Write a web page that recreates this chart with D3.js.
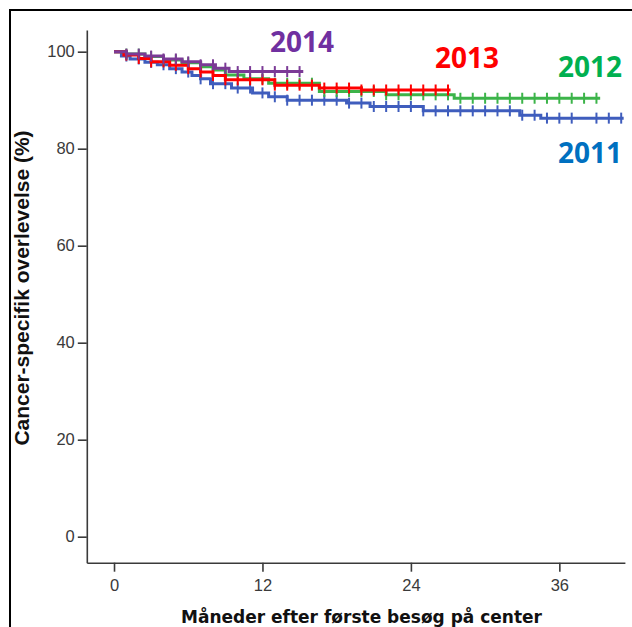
<!DOCTYPE html>
<html>
<head>
<meta charset="utf-8">
<script src="https://cdn.jsdelivr.net/npm/d3@7"></script>
<style>
  html, body { margin: 0; padding: 0; background: #fff; }
  svg { display: block; }
</style>
</head>
<body>
<svg id="chart" width="632" height="627"></svg>
<script>
// Kaplan-Meier steps: time (months) where each step starts, and survival (%) after it
const t2011 = [0, 0.6, 1.3, 2.5, 3.5, 4.5, 5.5, 6.3, 7.0, 7.8, 9.5, 11.2, 12.5, 14, 18.8, 20.7, 25, 32.8, 34.5];
const s2011 = [100, 99.1, 98.5, 97.8, 97.3, 96.5, 95.8, 95.1, 94.4, 93.4, 92.5, 91.5, 90.7, 90.0, 89.4, 88.7, 87.8, 86.9, 86.3];
const end2011 = 41.2;
const c2011 = [1, 2, 3, 4, 5, 6, 7, 8, 9, 10, 11, 12, 13, 14, 15, 16, 17, 18, 19, 20, 21, 22, 23, 24, 25, 26, 27, 28, 29, 30, 31, 32, 33, 34, 35, 36, 37, 39, 40, 41];

const t2012 = [0, 1, 2.5, 4, 5.5, 7, 8, 9, 10.5, 12.5, 16.6, 22, 27.5];
const s2012 = [100, 99.5, 99.0, 98.3, 97.7, 96.9, 96.2, 95.2, 94.4, 93.5, 91.8, 91.1, 90.4];
const end2012 = 39.3;
const c2012 = [1, 2, 3, 4, 5, 6, 7, 8, 9, 10, 11, 12, 13, 14, 15, 16, 17, 18, 19, 20, 21, 22, 23, 24, 25, 26, 27, 28, 29, 30, 31, 32, 33, 34, 35, 36, 37, 38, 39];

const t2013 = [0, 0.8, 2, 3, 4.5, 6, 7, 8, 9, 13, 16.6, 20];
const s2013 = [100, 99.3, 98.6, 97.9, 97.2, 96.5, 95.8, 95.1, 94.2, 93.1, 92.5, 92.1];
const end2013 = 27.2;
const c2013 = [1, 2, 3, 4, 5, 6, 7, 8, 9, 10, 11, 12, 13, 14, 15, 16, 17, 18, 19, 20, 21, 22, 23, 24, 25, 26, 27];

const t2014 = [0, 1, 2.5, 4, 5.5, 7, 8.2, 9.3];
const s2014 = [100, 99.5, 99.1, 98.5, 97.9, 97.3, 96.6, 95.9];
const end2014 = 15.3;
const c2014 = [1, 2, 3, 4, 5, 6, 7, 8, 9, 10, 11, 12, 13, 14, 15];

const seriesNames = ["2011", "2012", "2013", "2014"];
const lineColors = ["#3f5dbd", "#3cb44a", "#ff0000", "#7b3a96"];
const labelColors = ["#0070c0", "#00b050", "#ff0000", "#7030a0"];

const xTicks = [0, 12, 24, 36];
const yTicks = [0, 20, 40, 60, 80, 100];
const xTitle = "Måneder efter første besøg på center";
const yTitle = "Cancer-specifik overlevelse (%)";

const series = [
  { name: seriesNames[0], t: t2011, s: s2011, end: end2011, c: c2011, line: lineColors[0], label: labelColors[0] },
  { name: seriesNames[1], t: t2012, s: s2012, end: end2012, c: c2012, line: lineColors[1], label: labelColors[1] },
  { name: seriesNames[2], t: t2013, s: s2013, end: end2013, c: c2013, line: lineColors[2], label: labelColors[2] },
  { name: seriesNames[3], t: t2014, s: s2014, end: end2014, c: c2014, line: lineColors[3], label: labelColors[3] }
];

const svg = d3.select("#chart");

// outer frame
svg.append("rect")
  .attr("x", 10).attr("y", 10)
  .attr("width", 660).attr("height", 660)
  .attr("fill", "none").attr("stroke", "#000").attr("stroke-width", 2);

const x = d3.scaleLinear().domain([-2.2, 41.3]).range([86.8, 624.9]);
const y = d3.scaleLinear().domain([-5.36, 104.47]).range([562.7, 30]);

const axisColor = "#3a3a3a";
const tickFont = "'Liberation Sans', Arial, sans-serif";

// y axis
const gy = svg.append("g")
  .attr("transform", `translate(${x(-2.2)},0)`)
  .call(d3.axisLeft(y).tickValues(yTicks).tickSizeInner(9).tickSizeOuter(0).tickPadding(3));
// x axis
const gx = svg.append("g")
  .attr("transform", `translate(0,${y(-5.36)})`)
  .call(d3.axisBottom(x).tickValues(xTicks).tickSizeInner(9).tickSizeOuter(0).tickPadding(8));

[gx, gy].forEach(g => {
  g.select(".domain").attr("stroke", axisColor).attr("stroke-width", 1.6);
  g.selectAll(".tick line").attr("stroke", axisColor).attr("stroke-width", 1.6);
  g.selectAll(".tick text")
    .attr("fill", "#3a3a3a")
    .style("font-family", tickFont)
    .style("font-size", "16.5px");
});

// axis titles
svg.append("text")
  .attr("x", 361.5).attr("y", 622.5)
  .attr("text-anchor", "middle")
  .style("font-family", "'DejaVu Sans', Verdana, sans-serif")
  .style("font-weight", "bold")
  .style("font-size", "17px")
  .attr("fill", "#111")
  .text(xTitle);

svg.append("text")
  .attr("transform", "translate(28.5,288) rotate(-90)")
  .attr("text-anchor", "middle")
  .style("font-family", "'Liberation Sans', Arial, sans-serif")
  .style("font-weight", "bold")
  .style("font-size", "21px")
  .attr("fill", "#111")
  .text(yTitle);

// survival value at time tt for a step curve
function survAt(d, tt) {
  let v = d.s[0];
  for (let i = 0; i < d.t.length; i++) if (d.t[i] <= tt) v = d.s[i];
  return v;
}

const line = d3.line()
  .x(p => x(p[0]))
  .y(p => y(p[1]))
  .curve(d3.curveStepAfter);

const curves = svg.append("g");
series.forEach(d => {
  const pts = d.t.map((tt, i) => [tt, d.s[i]]);
  pts.push([d.end, d.s[d.s.length - 1]]);
  const g = curves.append("g");
  g.append("path")
    .attr("d", line(pts))
    .attr("fill", "none")
    .attr("stroke", d.line)
    .attr("stroke-width", 3);
  g.selectAll("line.cens")
    .data(d.c)
    .join("line")
    .attr("class", "cens")
    .attr("x1", c => x(c)).attr("x2", c => x(c))
    .attr("y1", c => y(survAt(d, c)) - 5.5)
    .attr("y2", c => y(survAt(d, c)) + 5.5)
    .attr("stroke", d.line)
    .attr("stroke-width", 2);
});

// year labels
const labelPos = { "2011": [590, 163], "2012": [590, 77], "2013": [467, 68], "2014": [302, 52] };
series.forEach(d => {
  svg.append("text")
    .attr("x", labelPos[d.name][0]).attr("y", labelPos[d.name][1])
    .attr("text-anchor", "middle")
    .style("font-family", "'Open Sans', Lato, sans-serif")
    .style("font-weight", "bold")
    .style("font-size", "28px")
    .attr("fill", d.label)
    .text(d.name);
});
</script>
</body>
</html>
